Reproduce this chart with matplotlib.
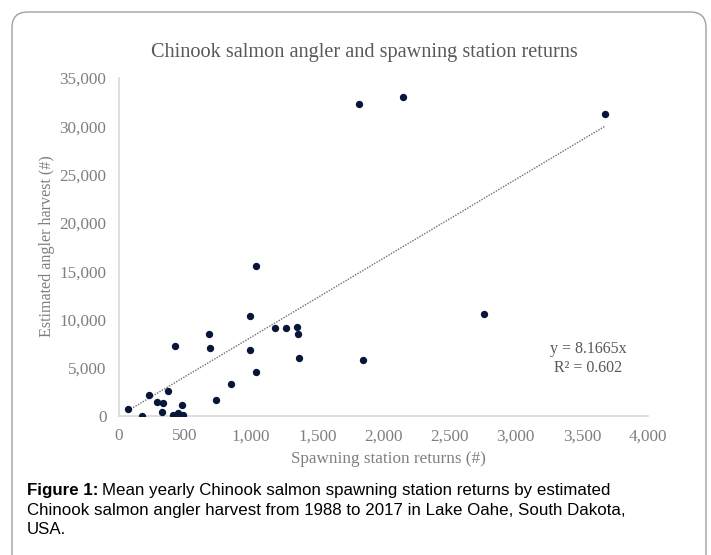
import matplotlib
matplotlib.use("Agg")
import matplotlib.pyplot as plt
from matplotlib.patches import FancyBboxPatch
import numpy as np

# Data
spawning_returns = [71, 172, 230, 285, 330, 326, 374, 424, 411, 444, 474, 482,
                    684, 689, 735, 848, 987, 992, 1035, 1038, 1182, 1263, 1346,
                    1354, 1358, 1846, 1818, 2144, 2758, 3674]
angler_harvest = [690, 30, 2170, 1480, 1310, 450, 2620, 7250, 100, 340, 1140, 70,
                  8450, 7000, 1650, 3310, 10350, 6830, 4520, 15530, 9140, 9140, 9180,
                  8450, 6040, 5760, 32300, 33020, 10560, 31260]
slope = 8.1665
r_squared = 0.602
x_ticks = [0, 500, 1000, 1500, 2000, 2500, 3000, 3500, 4000]
y_ticks = [0, 5000, 10000, 15000, 20000, 25000, 30000, 35000]

W, H = 711, 555
fig = plt.figure(figsize=(W / 100, H / 100), dpi=100)
fig.patch.set_facecolor("white")

# rounded frame
frame = FancyBboxPatch((12 / W, -0.05), (706 - 12) / W, (H - 12) / H + 0.05,
                       boxstyle="round,pad=0,rounding_size=0.022",
                       transform=fig.transFigure, facecolor="none",
                       edgecolor="#a0a0a0", linewidth=1.0, mutation_aspect=W / H)
fig.patches.append(frame)

ax = fig.add_axes([119 / W, 1 - 416 / H, (648 - 119) / W, (416 - 78) / H])
serif = "Liberation Serif"
gray = "#7f7f7f"

ax.scatter(spawning_returns, angler_harvest, s=28, color="#08163a", zorder=3,
           linewidths=0)
xs = np.array([min(spawning_returns), max(spawning_returns)])
ax.plot(xs, slope * xs, linestyle=(0, (1, 1)), color="#6e6e6e", linewidth=1.0,
        zorder=2)

ax.set_xlim(0, 4000)
ax.set_ylim(0, 35000)
ax.set_xticks(x_ticks)
ax.set_yticks(y_ticks)
ax.set_xticklabels([f"{v:,}" for v in x_ticks], fontfamily=serif, fontsize=12.3,
                   color=gray)
ax.set_yticklabels([f"{v:,}" for v in y_ticks], fontfamily=serif, fontsize=12.3,
                   color=gray)
ax.tick_params(axis="y", length=0, pad=9)
ax.tick_params(axis="x", length=0, pad=9)
for side in ["top", "right"]:
    ax.spines[side].set_visible(False)
for side in ["left", "bottom"]:
    ax.spines[side].set_color("#d9d9d9")
    ax.spines[side].set_linewidth(1.2)

ax.text(3546, 5950, f"y = {slope}x\nR² = {r_squared}", fontfamily=serif,
        fontsize=11.5, color="#595959", ha="center", va="center",
        linespacing=1.24)

fig.text(364 / W, 1 - 52 / H, "Chinook salmon angler and spawning station returns",
         fontfamily=serif, fontsize=14.6, color="#595959", ha="center",
         va="center")
fig.text(388 / W, 1 - 459 / H, "Spawning station returns (#)", fontfamily=serif,
         fontsize=12.3, color=gray, ha="center", va="center")
fig.text(47 / W, 1 - 246 / H, "Estimated angler harvest (#)", fontfamily=serif,
         fontsize=11.6, color=gray, ha="center", va="center", rotation=90)

sans = "Liberation Sans"
cap_size = 12.2
y1 = 1 - 491 / H
t = fig.text(27 / W, y1, "Figure 1:", fontfamily=sans, fontsize=cap_size,
             fontweight="bold", color="black", ha="left", va="center")
fig.canvas.draw()
bb = t.get_window_extent()
fig.text(bb.x1 / W + 4 / W, y1,
         "Mean yearly Chinook salmon spawning station returns by estimated",
         fontfamily=sans, fontsize=cap_size, color="black", ha="left", va="center")
fig.text(27 / W, 1 - 510 / H,
         "Chinook salmon angler harvest from 1988 to 2017 in Lake Oahe, South Dakota,",
         fontfamily=sans, fontsize=cap_size, color="black", ha="left", va="center")
fig.text(27 / W, 1 - 529 / H, "USA.", fontfamily=sans, fontsize=cap_size,
         color="black", ha="left", va="center")

fig.savefig("out.png", dpi=100, facecolor="white")
